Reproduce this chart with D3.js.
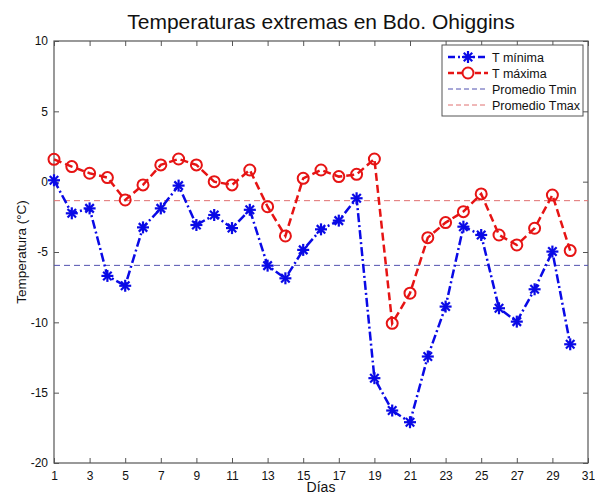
<!DOCTYPE html>
<html><head><meta charset="utf-8">
<script src="https://cdn.jsdelivr.net/npm/d3@7"></script>
<style>body{margin:0;background:#fff}svg{display:block}text{font-family:Arial,"Liberation Sans",sans-serif}</style>
</head><body><svg id="c" width="595" height="495"></svg>
<script>
const days = d3.range(1, 31);
const tMin = [0.1,-2.25,-1.9,-6.7,-7.4,-3.25,-1.9,-0.28,-3.08,-2.37,-3.3,-2.0,-5.97,-6.87,-4.85,-3.39,-2.77,-1.18,-13.97,-16.27,-17.1,-12.43,-8.88,-3.2,-3.79,-9.0,-9.95,-7.65,-4.97,-11.56];
const tMax = [1.59,1.07,0.6,0.29,-1.3,-0.23,1.19,1.61,1.19,0.0,-0.23,0.83,-1.78,-3.86,0.24,0.83,0.36,0.52,1.61,-10.07,-7.93,-3.98,-2.91,-2.13,-0.87,-3.79,-4.5,-3.31,-0.95,-4.9];
const avgMin = -5.95;
const avgMax = -1.35;
const xTicks = d3.range(1, 32, 2);
const yTicks = [-20,-15,-10,-5,0,5,10];
const labels = ["T mínima","T máxima","Promedio Tmin","Promedio Tmax"];

const svg = d3.select("#c");
const L=54,R=588,T=41,B=463;
const x = d3.scaleLinear().domain([1,31]).range([L,R]);
const y = d3.scaleLinear().domain([-20,10]).range([B,T]);
const axCol="#555";
const blue="#0a0ae6", red="#e61414";

svg.append("rect").attr("x",L).attr("y",T).attr("width",R-L).attr("height",B-T).attr("fill","none").attr("stroke",axCol).attr("stroke-width",1.2);

svg.append("g").attr("transform",`translate(0,${B})`).call(d3.axisBottom(x).tickValues(xTicks).tickSize(-5).tickPadding(8).tickFormat(d=>d))
  .call(g=>{g.select(".domain").remove();g.selectAll("line").attr("stroke",axCol);g.selectAll("text").attr("font-size",12).attr("fill","#111");});
svg.append("g").attr("transform",`translate(0,${T})`).call(d3.axisTop(x).tickValues(xTicks).tickSize(-5).tickFormat(""))
  .call(g=>{g.select(".domain").remove();g.selectAll("line").attr("stroke",axCol);});
svg.append("g").attr("transform",`translate(${L},0)`).call(d3.axisLeft(y).tickValues(yTicks).tickSize(-5).tickPadding(6).tickFormat(d=>d))
  .call(g=>{g.select(".domain").remove();g.selectAll("line").attr("stroke",axCol);g.selectAll("text").attr("font-size",12).attr("fill","#111");});
svg.append("g").attr("transform",`translate(${R},0)`).call(d3.axisRight(y).tickValues(yTicks).tickSize(-5).tickFormat(""))
  .call(g=>{g.select(".domain").remove();g.selectAll("line").attr("stroke",axCol);});

svg.append("line").attr("x1",L).attr("x2",R).attr("y1",y(avgMin)).attr("y2",y(avgMin)).attr("stroke","#5050b0").attr("stroke-width",1).attr("stroke-dasharray","6,4");
svg.append("line").attr("x1",L).attr("x2",R).attr("y1",y(avgMax)).attr("y2",y(avgMax)).attr("stroke","#e07070").attr("stroke-width",1).attr("stroke-dasharray","6,4");

const line = d3.line().x((d,i)=>x(days[i])).y(d=>y(d));
svg.append("path").datum(tMin).attr("d",line).attr("fill","none").attr("stroke",blue).attr("stroke-width",2.5).attr("stroke-dasharray","9,3,2,3");
svg.append("path").datum(tMax).attr("d",line).attr("fill","none").attr("stroke",red).attr("stroke-width",2.5).attr("stroke-dasharray","8,4");

function star(g,cx,cy,r){
  for(let k=0;k<4;k++){const a=k*Math.PI/4;
    g.append("line").attr("x1",cx-r*Math.cos(a)).attr("y1",cy-r*Math.sin(a)).attr("x2",cx+r*Math.cos(a)).attr("y2",cy+r*Math.sin(a)).attr("stroke",blue).attr("stroke-width",2.2);}
}
const gs=svg.append("g");
tMin.forEach((v,i)=>star(gs,x(days[i]),y(v),6));
svg.append("g").selectAll("circle").data(tMax).join("circle").attr("cx",(d,i)=>x(days[i])).attr("cy",d=>y(d)).attr("r",5.5).attr("fill","none").attr("stroke",red).attr("stroke-width",2);

const lg=svg.append("g");
lg.append("rect").attr("x",442).attr("y",45).attr("width",141).attr("height",71).attr("fill","#fff").attr("stroke",axCol).attr("stroke-width",1);
const ly=[57,73,89,105];
lg.append("line").attr("x1",448).attr("x2",488).attr("y1",ly[0]).attr("y2",ly[0]).attr("stroke",blue).attr("stroke-width",2.5).attr("stroke-dasharray","7,3,2,3");
star(lg,468,ly[0],6);
lg.append("line").attr("x1",448).attr("x2",488).attr("y1",ly[1]).attr("y2",ly[1]).attr("stroke",red).attr("stroke-width",2.5).attr("stroke-dasharray","6,3");
lg.append("circle").attr("cx",468).attr("cy",ly[1]).attr("r",5.5).attr("fill","#fff").attr("stroke",red).attr("stroke-width",2);
lg.append("line").attr("x1",448).attr("x2",488).attr("y1",ly[2]).attr("y2",ly[2]).attr("stroke","#5050b0").attr("stroke-dasharray","5,3");
lg.append("line").attr("x1",448).attr("x2",488).attr("y1",ly[3]).attr("y2",ly[3]).attr("stroke","#e07070").attr("stroke-dasharray","5,3");
labels.forEach((t,i)=>lg.append("text").attr("x",492).attr("y",ly[i]+4.5).attr("font-size",12.5).attr("fill","#111").text(t));

svg.append("text").attr("x",(L+R)/2).attr("y",29).attr("text-anchor","middle").attr("font-size",21).attr("fill","#111").text("Temperaturas extremas en Bdo. Ohiggins");
svg.append("text").attr("x",(L+R)/2).attr("y",492).attr("text-anchor","middle").attr("font-size",14).attr("fill","#111").text("Días");
svg.append("text").attr("transform",`translate(26,${(T+B)/2}) rotate(-90)`).attr("text-anchor","middle").attr("font-size",13.5).attr("fill","#111").text("Temperatura (°C)");
</script></body></html>
